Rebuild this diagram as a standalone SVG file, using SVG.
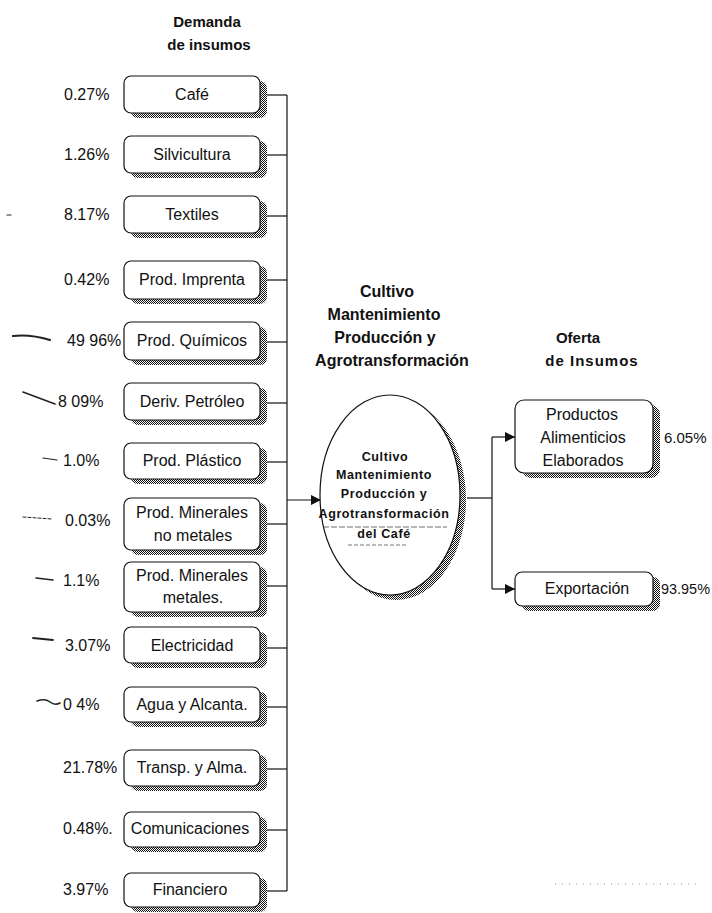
<svg xmlns="http://www.w3.org/2000/svg" width="712" height="913" viewBox="0 0 712 913">
<style>
.t{font-family:"Liberation Sans",Arial,sans-serif;font-size:16px;fill:#111}
.c{text-anchor:middle}
.b{font-weight:bold}
.box{fill:#fff;stroke:#111;stroke-width:1.2}
.sh{fill:url(#chk)}
.ln{stroke:#111;stroke-width:1.2;fill:none}
.mark{stroke:#222;fill:none;stroke-linecap:round}
</style>
<defs>
<pattern id="chk" width="2" height="2" patternUnits="userSpaceOnUse">
<rect width="2" height="2" fill="#fff"/>
<rect width="1" height="1" fill="#111"/>
<rect x="1" y="1" width="1" height="1" fill="#111"/>
</pattern>
<marker id="arr" markerWidth="10" markerHeight="10" refX="10" refY="5" orient="auto" markerUnits="userSpaceOnUse">
<path d="M0,0 L10,5 L0,10 Z" fill="#111"/>
</marker>
</defs>
<rect width="712" height="913" fill="#fff"/>

<g id="titles">
<text class="t b c" x="207" y="27" style="font-size:15px">Demanda</text>
<text class="t b c" x="209" y="50" style="font-size:15px">de insumos</text>
<text class="t b c" x="387" y="297">Cultivo</text>
<text class="t b c" x="384" y="320">Mantenimiento</text>
<text class="t b c" x="385" y="343">Producción y</text>
<text class="t b c" x="392" y="366">Agrotransformación</text>
<text class="t b c" x="578" y="343" style="font-size:15px">Oferta</text>
<text class="t b c" x="592" y="366" style="font-size:15px;letter-spacing:1px">de Insumos</text>
</g>

<g id="connectors">
<line class="ln" x1="287" y1="95" x2="287" y2="891"/>
<line class="ln" x1="267" y1="95" x2="287" y2="95"/>
<line class="ln" x1="267" y1="155" x2="287" y2="155"/>
<line class="ln" x1="267" y1="216" x2="287" y2="216"/>
<line class="ln" x1="267" y1="280" x2="287" y2="280"/>
<line class="ln" x1="267" y1="342" x2="287" y2="342"/>
<line class="ln" x1="267" y1="403" x2="287" y2="403"/>
<line class="ln" x1="267" y1="462" x2="287" y2="462"/>
<line class="ln" x1="267" y1="524" x2="287" y2="524"/>
<line class="ln" x1="267" y1="586" x2="287" y2="586"/>
<line class="ln" x1="267" y1="648" x2="287" y2="648"/>
<line class="ln" x1="267" y1="707" x2="287" y2="707"/>
<line class="ln" x1="267" y1="769" x2="287" y2="769"/>
<line class="ln" x1="267" y1="830" x2="287" y2="830"/>
<line class="ln" x1="267" y1="891" x2="287" y2="891"/>
<line class="ln" x1="287" y1="500" x2="321" y2="500" marker-end="url(#arr)"/>
<line class="ln" x1="467" y1="498" x2="492" y2="498"/>
<line class="ln" x1="492" y1="437" x2="492" y2="589"/>
<line class="ln" x1="492" y1="437" x2="515" y2="437" marker-end="url(#arr)"/>
<line class="ln" x1="492" y1="589" x2="515" y2="589" marker-end="url(#arr)"/>
</g>

<g id="n-cafe">
<rect class="sh" x="131" y="81" width="136" height="37" rx="7"/>
<rect class="box" x="124" y="76" width="136" height="37" rx="7"/>
<text class="t c" x="192" y="100">Café</text>
<text class="t" x="64" y="100">0.27%</text>
</g>
<g id="n-silvicultura">
<rect class="sh" x="131" y="141" width="136" height="37" rx="7"/>
<rect class="box" x="124" y="136" width="136" height="37" rx="7"/>
<text class="t c" x="192" y="160">Silvicultura</text>
<text class="t" x="64" y="160">1.26%</text>
</g>
<g id="n-textiles">
<rect class="sh" x="131" y="201" width="136" height="37" rx="7"/>
<rect class="box" x="124" y="196" width="136" height="37" rx="7"/>
<text class="t c" x="192" y="220">Textiles</text>
<text class="t" x="64" y="220">8.17%</text>
</g>
<g id="n-imprenta">
<rect class="sh" x="131" y="266" width="136" height="38" rx="7"/>
<rect class="box" x="124" y="261" width="136" height="38" rx="7"/>
<text class="t c" x="192" y="285">Prod. Imprenta</text>
<text class="t" x="64" y="285">0.42%</text>
</g>
<g id="n-quimicos">
<rect class="sh" x="131" y="327" width="136" height="38" rx="7"/>
<rect class="box" x="124" y="322" width="136" height="38" rx="7"/>
<text class="t c" x="192" y="346">Prod. Químicos</text>
<text class="t" x="67" y="346">49 96%</text>
</g>
<g id="n-petroleo">
<rect class="sh" x="131" y="388" width="136" height="37" rx="7"/>
<rect class="box" x="124" y="383" width="136" height="37" rx="7"/>
<text class="t c" x="192" y="407">Deriv. Petróleo</text>
<text class="t" x="58" y="407">8 09%</text>
</g>
<g id="n-plastico">
<rect class="sh" x="131" y="448" width="136" height="36" rx="7"/>
<rect class="box" x="124" y="443" width="136" height="36" rx="7"/>
<text class="t c" x="192" y="466">Prod. Plástico</text>
<text class="t" x="63" y="466">1.0%</text>
</g>
<g id="n-nometales">
<rect class="sh" x="131" y="503" width="136" height="52" rx="7"/>
<rect class="box" x="124" y="498" width="136" height="52" rx="7"/>
<text class="t c" x="192" y="518">Prod. Minerales</text>
<text class="t c" x="193" y="541">no metales</text>
<text class="t" x="65" y="526">0.03%</text>
</g>
<g id="n-metales">
<rect class="sh" x="131" y="567" width="136" height="50" rx="7"/>
<rect class="box" x="124" y="562" width="136" height="50" rx="7"/>
<text class="t c" x="192" y="581">Prod. Minerales</text>
<text class="t c" x="193" y="603">metales.</text>
<text class="t" x="63" y="586">1.1%</text>
</g>
<g id="n-electricidad">
<rect class="sh" x="131" y="632" width="136" height="36" rx="7"/>
<rect class="box" x="124" y="627" width="136" height="36" rx="7"/>
<text class="t c" x="192" y="651">Electricidad</text>
<text class="t" x="65" y="651">3.07%</text>
</g>
<g id="n-agua">
<rect class="sh" x="131" y="692" width="136" height="35" rx="7"/>
<rect class="box" x="124" y="687" width="136" height="35" rx="7"/>
<text class="t c" x="192" y="710">Agua y Alcanta.</text>
<text class="t" x="63" y="710">0 4%</text>
</g>
<g id="n-transp">
<rect class="sh" x="131" y="755" width="136" height="36" rx="7"/>
<rect class="box" x="124" y="750" width="136" height="36" rx="7"/>
<text class="t c" x="192" y="773">Transp. y Alma.</text>
<text class="t" x="63" y="773">21.78%</text>
</g>
<g id="n-comunicaciones">
<rect class="sh" x="131" y="817" width="136" height="35" rx="7"/>
<rect class="box" x="124" y="812" width="136" height="35" rx="7"/>
<text class="t c" x="190" y="834">Comunicaciones</text>
<text class="t" x="63" y="834">0.48%.</text>
</g>
<g id="n-financiero">
<rect class="sh" x="131" y="878" width="136" height="34" rx="7"/>
<rect class="box" x="124" y="873" width="136" height="34" rx="7"/>
<text class="t c" x="190" y="895">Financiero</text>
<text class="t" x="63" y="895">3.97%</text>
</g>

<g id="n-center">
<ellipse class="sh" cx="396" cy="500" rx="70" ry="100"/>
<ellipse cx="390" cy="495" rx="70" ry="100" fill="#fff" stroke="#111" stroke-width="1.2"/>
<g class="t b c" style="font-size:12.5px;letter-spacing:0.6px">
<text x="385" y="461">Cultivo</text>
<text x="384" y="479">Mantenimiento</text>
<text x="384" y="498">Producción y</text>
<text x="384" y="518">Agrotransformación</text>
<text x="384" y="538">del Café</text>
</g>
<line x1="323" y1="527" x2="447" y2="527" stroke="#444" stroke-width="0.8" stroke-dasharray="6 2"/>
<line x1="348" y1="545" x2="408" y2="545" stroke="#555" stroke-width="0.8" stroke-dasharray="4 2"/>
</g>

<g id="n-productos">
<rect class="sh" x="522" y="405" width="138" height="73" rx="9"/>
<rect class="box" x="515" y="400" width="138" height="73" rx="9"/>
<text class="t c" x="582" y="420">Productos</text>
<text class="t c" x="583" y="443">Alimenticios</text>
<text class="t c" x="583" y="466">Elaborados</text>
<text class="t" x="664" y="443" style="font-size:15px">6.05%</text>
</g>
<g id="n-exportacion">
<rect class="sh" x="522" y="577" width="138" height="34" rx="7"/>
<rect class="box" x="515" y="572" width="138" height="34" rx="7"/>
<text class="t c" x="587" y="594">Exportación</text>
<text class="t" x="661" y="594" style="font-size:15px" textLength="49" lengthAdjust="spacingAndGlyphs">93.95%</text>
</g>

<g id="marks">
<path class="mark" d="M13,336 Q30,334 50,340" stroke-width="2.2"/>
<path class="mark" d="M23,392 L55,404" stroke-width="1.6"/>
<path class="mark" d="M43,458 L57,460" stroke-width="1.2"/>
<path class="mark" d="M23,517 L52,519" stroke-width="1" stroke-dasharray="3 2"/>
<path class="mark" d="M36,578 L53,580" stroke-width="1.6"/>
<path class="mark" d="M33,638 L53,640" stroke-width="1.8"/>
<path class="mark" d="M37,701 Q45,698 50,702 T60,703" stroke-width="1.6"/>
<path class="mark" d="M7,215 L11,215" stroke-width="1.2"/>
<line x1="555" y1="884" x2="700" y2="884" stroke="#999" stroke-width="1" stroke-dasharray="1 6"/>
</g>
</svg>
